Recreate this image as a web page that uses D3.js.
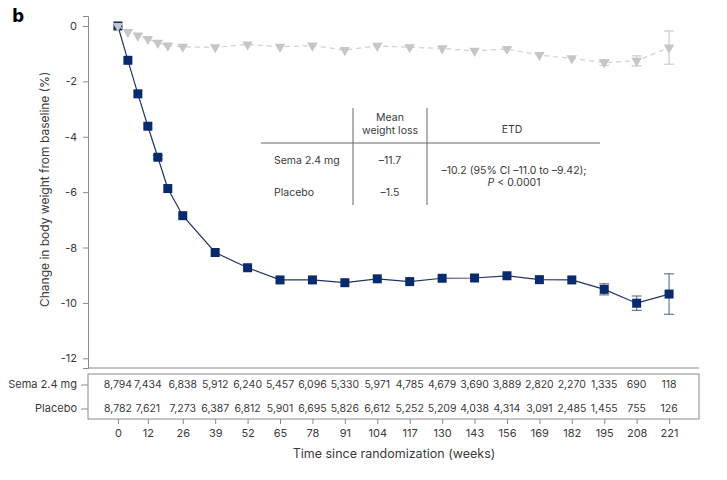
<!DOCTYPE html>
<html lang="en">
<head>
<meta charset="UTF-8">
<title>Change in body weight</title>
<script src="https://d3js.org/d3.v7.min.js"></script>
<style>
  body { margin: 0; background: #fff; }
  text { font-family: Inter, "Noto Sans", sans-serif; fill: #3a3a3a; }
</style>
</head>
<body>
<svg id="chart" width="727" height="480"></svg>
<script>
// weeks where both arms were measured
const weeks = [0, 4, 8, 12, 16, 20, 26, 39, 52, 65, 78, 91, 104, 117, 130, 143, 156, 169, 182, 195, 208, 221];
const semaVals = [0, -1.24, -2.45, -3.62, -4.74, -5.87, -6.85, -8.18, -8.73, -9.17, -9.17, -9.27, -9.13, -9.23, -9.11, -9.10, -9.02, -9.16, -9.17, -9.51, -10.01, -9.68];
const semaErr = [0, 0, 0, 0, 0.06, 0, 0, 0, 0, 0, 0, 0, 0, 0, 0, 0, 0, 0, 0, 0.2, 0.26, 0.73];
const placeboVals = [0, -0.22, -0.35, -0.47, -0.61, -0.71, -0.75, -0.77, -0.67, -0.75, -0.71, -0.87, -0.72, -0.77, -0.81, -0.90, -0.83, -1.05, -1.17, -1.32, -1.26, -0.78];
const placeboErr = [0, 0, 0, 0, 0, 0, 0, 0, 0, 0, 0, 0, 0, 0, 0, 0, 0, 0, 0, 0.1, 0.18, 0.6];

// x ticks and numbers at risk
const tickWeeks = [0, 12, 26, 39, 52, 65, 78, 91, 104, 117, 130, 143, 156, 169, 182, 195, 208, 221];
const semaN = ["8,794", "7,434", "6,838", "5,912", "6,240", "5,457", "6,096", "5,330", "5,971", "4,785", "4,679", "3,690", "3,889", "2,820", "2,270", "1,335", "690", "118"];
const placeboN = ["8,782", "7,621", "7,273", "6,387", "6,812", "5,901", "6,695", "5,826", "6,612", "5,252", "5,209", "4,038", "4,314", "3,091", "2,485", "1,455", "755", "126"];
const yTicks = [0, -2, -4, -6, -8, -10, -12];

// inset table
const insetRows = ["Sema 2.4 mg", "Placebo"];
const insetMean = ["\u201311.7", "\u20131.5"];
const insetEtd = ["\u201310.2 (95% CI \u201311.0 to \u20139.42);", "P < 0.0001"];

const svg = d3.select("#chart");
const navy = "#0a2a6e";
const grey = "#c6c6c6";
const axisCol = "#8a8a8a";

const x = d3.scaleLinear().domain([-12, 233]).range([88, 699]);
const y = d3.scaleLinear().domain([-12.35, 0.36]).range([368, 16]);

// panel letter
svg.append("text").attr("x", 12).attr("y", 22)
  .style("font-family", "'DejaVu Sans', sans-serif")
  .style("font-weight", "bold").style("font-size", "17px").style("fill", "#000")
  .text("b");

// y axis
const yAxis = svg.append("g").attr("transform", "translate(88,0)")
  .call(d3.axisLeft(y).tickValues(yTicks).tickSize(5).tickPadding(6).tickFormat(d => d));
yAxis.select(".domain").attr("stroke", axisCol);
yAxis.selectAll(".tick line").attr("stroke", axisCol);
yAxis.selectAll("text").style("font-size", "11px").style("fill", "#3a3a3a");

// plot bottom line
svg.append("line").attr("x1", 88).attr("x2", 699).attr("y1", 368).attr("y2", 368)
  .attr("stroke", axisCol);

svg.append("text")
  .attr("transform", "translate(46," + y(-5.9) + ") rotate(-90)")
  .attr("text-anchor", "middle").attr("dominant-baseline", "middle")
  .style("font-size", "12px")
  .text("Change in body weight from baseline (%)");

const placebo = weeks.map((w, i) => ({ w, v: placeboVals[i], e: placeboErr[i] }));
const sema = weeks.map((w, i) => ({ w, v: semaVals[i], e: semaErr[i] }));

const line = d3.line().x(d => x(d.w)).y(d => y(d.v));

function errBars(data, col) {
  const g = svg.append("g").attr("stroke", col).attr("stroke-width", 1.1);
  data.filter(d => d.e > 0).forEach(d => {
    g.append("line").attr("x1", x(d.w)).attr("x2", x(d.w)).attr("y1", y(d.v - d.e)).attr("y2", y(d.v + d.e));
    g.append("line").attr("x1", x(d.w) - 5).attr("x2", x(d.w) + 5).attr("y1", y(d.v - d.e)).attr("y2", y(d.v - d.e));
    g.append("line").attr("x1", x(d.w) - 5).attr("x2", x(d.w) + 5).attr("y1", y(d.v + d.e)).attr("y2", y(d.v + d.e));
  });
}

// sema series
errBars(sema, "#5d6b8e");
svg.append("path").datum(sema).attr("d", line)
  .attr("fill", "none").attr("stroke", "#233463").attr("stroke-width", 1.2);
svg.selectAll("rect.sema").data(sema).enter().append("rect")
  .attr("class", "sema")
  .attr("x", d => x(d.w) - 4.5).attr("y", d => y(d.v) - 4.5)
  .attr("width", 9).attr("height", 9).attr("fill", navy);

// placebo series
errBars(placebo, grey);
svg.append("path").datum(placebo).attr("d", line)
  .attr("fill", "none").attr("stroke", "#cfcfcf").attr("stroke-width", 1.2)
  .attr("stroke-dasharray", "5,4");
const tri = d3.symbol().type(d3.symbolTriangle).size(48);
svg.selectAll("path.pbo").data(placebo).enter().append("path")
  .attr("class", "pbo")
  .attr("d", tri)
  .attr("transform", d => "translate(" + x(d.w) + "," + y(d.v) + ") rotate(180)")
  .attr("fill", grey);

// inset table
const ins = svg.append("g").style("font-size", "10.5px");
ins.append("line").attr("x1", 261).attr("x2", 600).attr("y1", 143).attr("y2", 143).attr("stroke", "#666");
[353, 427].forEach(vx => ins.append("line").attr("x1", vx).attr("x2", vx).attr("y1", 108).attr("y2", 205).attr("stroke", "#666"));
ins.append("text").attr("x", 390).attr("y", 118).attr("text-anchor", "middle").attr("dominant-baseline", "middle").text("Mean");
ins.append("text").attr("x", 390).attr("y", 131).attr("text-anchor", "middle").attr("dominant-baseline", "middle").text("weight loss");
ins.append("text").attr("x", 512).attr("y", 130).attr("text-anchor", "middle").attr("dominant-baseline", "middle").text("ETD");
const rowY = [161, 193];
insetRows.forEach((r, i) => {
  ins.append("text").attr("x", 274).attr("y", rowY[i]).attr("dominant-baseline", "middle").text(r);
  ins.append("text").attr("x", 390).attr("y", rowY[i]).attr("text-anchor", "middle").attr("dominant-baseline", "middle").text(insetMean[i]);
});
ins.append("text").attr("x", 514).attr("y", 171).attr("text-anchor", "middle").attr("dominant-baseline", "middle").text(insetEtd[0]);
const pt = ins.append("text").attr("x", 514).attr("y", 183).attr("text-anchor", "middle").attr("dominant-baseline", "middle");
pt.append("tspan").style("font-style", "italic").text("P");
pt.append("tspan").text(insetEtd[1].slice(1));

// number-at-risk box
svg.append("rect").attr("x", 88).attr("y", 374).attr("width", 611).attr("height", 45)
  .attr("fill", "none").attr("stroke", axisCol);
const rows = [["Sema 2.4 mg", semaN, 385], ["Placebo", placeboN, 409]];
rows.forEach(([lab, vals, ry]) => {
  svg.append("line").attr("x1", 81).attr("x2", 88).attr("y1", ry).attr("y2", ry).attr("stroke", axisCol);
  svg.append("text").attr("x", 77).attr("y", ry).attr("text-anchor", "end")
    .attr("dominant-baseline", "middle").style("font-size", "11px").text(lab);
  svg.selectAll(null).data(vals).enter().append("text")
    .attr("x", (d, i) => x(tickWeeks[i]))
    .attr("y", ry).attr("text-anchor", "middle").attr("dominant-baseline", "middle")
    .style("font-size", "10.5px").text(d => d);
});

// x axis below box
const xAxis = svg.append("g").attr("transform", "translate(0,419)")
  .call(d3.axisBottom(x).tickValues(tickWeeks).tickSize(5).tickPadding(5).tickFormat(d => d));
xAxis.select(".domain").remove();
xAxis.selectAll(".tick line").attr("stroke", axisCol);
xAxis.selectAll("text").style("font-size", "11px").style("fill", "#3a3a3a");

svg.append("text").attr("x", 394).attr("y", 455).attr("text-anchor", "middle")
  .attr("dominant-baseline", "middle").style("font-size", "12.5px")
  .text("Time since randomization (weeks)");
</script>
</body>
</html>
